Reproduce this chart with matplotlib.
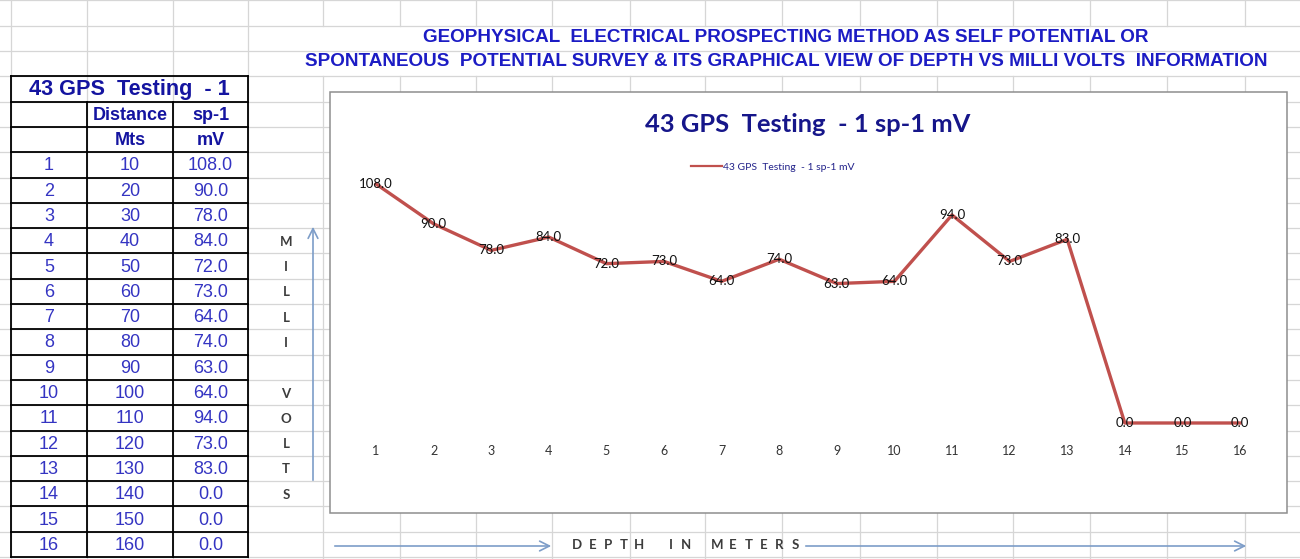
import matplotlib
matplotlib.use("Agg")
import matplotlib.pyplot as plt
from matplotlib import font_manager

# values
serials = list(range(1, 17))
distance_m = [10, 20, 30, 40, 50, 60, 70, 80, 90, 100, 110, 120, 130, 140, 150, 160]
sp_mv = [108.0, 90.0, 78.0, 84.0, 72.0, 73.0, 64.0, 74.0, 63.0, 64.0, 94.0, 73.0, 83.0, 0.0, 0.0, 0.0]

table_title = "43 GPS  Testing  - 1"
header_top = ["", "Distance", "sp-1"]
header_unit = ["", "Mts", "mV"]
series_name = "43 GPS  Testing  - 1 sp-1 mV"
headline = ["GEOPHYSICAL  ELECTRICAL PROSPECTING METHOD AS SELF POTENTIAL OR",
            "SPONTANEOUS  POTENTIAL SURVEY & ITS GRAPHICAL VIEW OF DEPTH VS MILLI VOLTS  INFORMATION"]
y_letters = list("MILLI VOLTS")
x_letters = list("DEPTH IN METERS")

installed = {f.name for f in font_manager.fontManager.ttflist}
ARIAL = "Liberation Sans"
NARROW = "Liberation Sans Narrow" if "Liberation Sans Narrow" in installed else ARIAL
CALIBRI = "Lato" if "Lato" in installed else "DejaVu Sans"

W, H = 1300, 559
fig = plt.figure(figsize=(W / 100, H / 100), dpi=100)
bg = fig.add_axes([0, 0, 1, 1])
bg.set_xlim(0, W)
bg.set_ylim(H, 0)
bg.axis("off")
renderer = fig.canvas.get_renderer()


def fit_text(ax, x, y, s, width_px, size, **kw):
    # scale the font so the string spans roughly the width seen in the sheet
    t = ax.text(x, y, s, fontsize=size, **kw)
    w = t.get_window_extent(renderer=renderer).width
    t.set_fontsize(size * width_px / w)
    return t


# spreadsheet grid
grid_c = "#d6d6d6"
col_x = [11, 87, 173, 248, 323, 400, 476, 552, 630, 705, 782, 860, 937, 1013, 1090, 1167, 1245]
row_h = 25.3
row_y = [557 - row_h * (22 - k) for k in range(23)]
for y in row_y:
    bg.plot([0, W], [y, y], color=grid_c, lw=0.9, zorder=1)
for x in col_x:
    if x >= 300:
        # headline text overflows these cells and hides the lines
        bg.plot([x, x], [0, row_y[1]], color=grid_c, lw=0.9, zorder=1)
        bg.plot([x, x], [row_y[3], H], color=grid_c, lw=0.9, zorder=1)
    else:
        bg.plot([x, x], [0, H], color=grid_c, lw=0.9, zorder=1)

# headline
head_c = "#1c1cc4"
fit_text(bg, 786, 38, headline[0], 728, 13, ha="center", va="center",
         family=NARROW, weight="bold", color=head_c, zorder=3)
fit_text(bg, 786, 62, headline[1], 965, 13, ha="center", va="center",
         family=NARROW, weight="bold", color=head_c, zorder=3)

# data table
tx0, tx1, tx2, tx3 = col_x[0], col_x[1], col_x[2], col_x[3]
for k in range(3, 23):
    bg.plot([tx0, tx3], [row_y[k], row_y[k]], color="black", lw=1.3, zorder=4)
for x in (tx0, tx3):
    bg.plot([x, x], [row_y[3], row_y[22]], color="black", lw=1.3, zorder=4)
for x in (tx1, tx2):
    bg.plot([x, x], [row_y[4], row_y[22]], color="black", lw=1.3, zorder=4)

cx = [(tx0 + tx1) / 2, (tx1 + tx2) / 2, (tx2 + tx3) / 2]
mid = [(row_y[k] + row_y[k + 1]) / 2 for k in range(22)]
bold_c = "#1414a0"
num_c = "#3434c2"
fit_text(bg, (tx0 + tx3) / 2, mid[3] + 1, table_title, 201, 15, ha="center", va="center",
         family=ARIAL, weight="bold", color=bold_c, zorder=5)
for j in range(3):
    bg.text(cx[j], mid[4] + 1, header_top[j], ha="center", va="center", fontsize=13,
            family=ARIAL, weight="bold", color=bold_c, zorder=5)
    bg.text(cx[j], mid[5] + 1, header_unit[j], ha="center", va="center", fontsize=13,
            family=ARIAL, weight="bold", color=bold_c, zorder=5)
for i in range(len(serials)):
    ym = mid[6 + i] + 1
    bg.text(cx[0], ym, str(serials[i]), ha="center", va="center", fontsize=13,
            family=ARIAL, color=num_c, zorder=5)
    bg.text(cx[1], ym, str(distance_m[i]), ha="center", va="center", fontsize=13,
            family=ARIAL, color=num_c, zorder=5)
    bg.text(cx[2], ym, f"{sp_mv[i]:.1f}", ha="center", va="center", fontsize=13,
            family=ARIAL, color=num_c, zorder=5)

# vertical axis caption, one letter per cell
for i, ch in enumerate(y_letters):
    bg.text(286, mid[9 + i] + 1, ch, ha="center", va="center", fontsize=9.5,
            family=CALIBRI, weight="bold", color="#3c3c3c", zorder=5)

arrow_c = "#7d9dc8"
arrow_kw = dict(arrowstyle="->,head_length=0.7,head_width=0.35", color=arrow_c, lw=1.2)
bg.annotate("", xy=(313, 224), xytext=(313, 483), arrowprops=arrow_kw, zorder=5)
bg.annotate("", xy=(554, 546), xytext=(332, 546), arrowprops=arrow_kw, zorder=5)
bg.annotate("", xy=(1249, 546), xytext=(803, 546), arrowprops=arrow_kw, zorder=5)

# horizontal caption, letters spread out as in the sheet
step = (795 - 577) / (len(x_letters) - 1)
for i, ch in enumerate(x_letters):
    bg.text(577 + i * step, 545, ch, ha="center", va="center", fontsize=9.5,
            family=CALIBRI, weight="bold", color="#3c3c3c", zorder=6)

# chart object
bg.add_patch(plt.Rectangle((330, 92), 1287 - 330, 513 - 92, facecolor="white",
                           edgecolor="#8e8e8e", lw=1.1, zorder=2))
fit_text(bg, 808, 125, series_name, 325, 16, ha="center", va="center",
         family=CALIBRI, weight="bold", color="#16168a", zorder=3)

# plot area mapped onto the chart box
px_left, px_right = 347.2, 1268.8
px_top, px_bottom = 157.4, 440.7
ax = fig.add_axes([px_left / W, (H - px_bottom) / H,
                   (px_right - px_left) / W, (px_bottom - px_top) / H])
ax.set_facecolor("none")
ax.set_xlim(0.5, 16.5)
ax.set_ylim(-8, 120)
for s in ax.spines.values():
    s.set_visible(False)
ax.set_yticks([])
ax.set_xticks(serials)
ax.set_xticklabels([str(s) for s in serials])
ax.tick_params(axis="x", length=0, pad=3, labelsize=9, labelcolor="#333333")
for lab in ax.get_xticklabels():
    lab.set_family(CALIBRI)

line, = ax.plot(serials, sp_mv, color="#c0504d", lw=2.4, solid_joinstyle="round",
                label=series_name)
for x, v in zip(serials, sp_mv):
    ax.text(x, v, f"{v:.1f}", ha="center", va="center", fontsize=9.5,
            family=CALIBRI, color="#111111")

leg = ax.legend(handles=[line], loc="center left", bbox_to_anchor=(682, 167),
                bbox_transform=bg.transData, frameon=False, handlelength=2.9,
                handletextpad=0.15, prop={"family": CALIBRI, "size": 7.5},
                labelcolor="#22228a")
for h in leg.legend_handles:
    h.set_linewidth(1.6)

fig.savefig("out.png", dpi=100)
